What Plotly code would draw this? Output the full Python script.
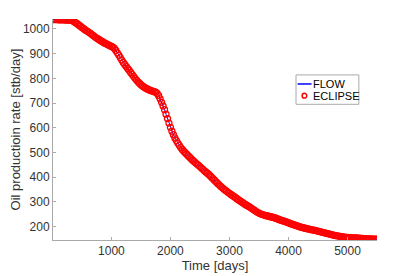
import plotly.graph_objects as go

time_days = [10] + list(range(25, 5501, 25))

eclipse_rate = [
    1038, 1038, 1038, 1038, 1037, 1037, 1037, 1037, 1037, 1036,
    1036, 1036, 1036, 1035, 1032, 1028, 1024, 1020, 1015, 1011,
    1006, 1002, 997, 993, 989, 985, 981, 976, 972, 967,
    963, 959, 955, 951, 948, 944, 941, 938, 935, 932,
    929, 926, 921, 913, 903, 894, 884, 874, 864, 856,
    848, 840, 833, 824, 816, 808, 800, 793, 786, 780,
    774, 769, 765, 761, 758, 755, 752, 750, 748, 746,
    744, 739, 730, 717, 703, 688, 673, 655, 637, 619,
    602, 586, 572, 559, 548, 538, 529, 520, 512, 505,
    499, 493, 487, 481, 475, 469, 464, 458, 453, 448,
    443, 437, 432, 426, 421, 416, 411, 405, 399, 393,
    387, 381, 375, 369, 363, 358, 353, 348, 344, 339,
    335, 330, 326, 322, 318, 313, 309, 305, 301, 297,
    293, 289, 286, 282, 278, 274, 270, 266, 262, 258,
    255, 252, 250, 248, 246, 244, 243, 241, 240, 238,
    237, 235, 233, 230, 228, 226, 224, 222, 220, 218,
    216, 213, 211, 209, 207, 205, 203, 201, 199, 197,
    196, 194, 193, 191, 190, 188, 187, 186, 185, 183,
    182, 180, 179, 177, 176, 174, 173, 171, 170, 168,
    167, 165, 164, 163, 162, 161, 160, 159, 158, 157,
    157, 156, 156, 155, 155, 154, 154, 153, 153, 152,
    152, 151, 151, 150, 150, 150, 150, 149, 149, 149,
    149,
]

flow_rate = list(eclipse_rate)

x_ticks = [1000, 2000, 3000, 4000, 5000]
y_ticks = [200, 300, 400, 500, 600, 700, 800, 900, 1000]

FONT = "Liberation Sans, Arial, Helvetica, sans-serif"

fig = go.Figure()
fig.add_trace(go.Scatter(x=time_days, y=flow_rate, mode="lines", name="FLOW",
                         line=dict(color="#0000ff", width=1), showlegend=False))
fig.add_trace(go.Scatter(x=time_days, y=eclipse_rate, mode="markers", name="ECLIPSE",
                         marker=dict(symbol="circle-open", color="#ff0000", size=6,
                                     line=dict(width=1.3, color="#ff0000")),
                         showlegend=False))

axis_common = dict(showgrid=False, zeroline=False, showline=True, linecolor="#aaaaaa",
                   linewidth=1, ticks="inside", ticklen=3, tickcolor="#aaaaaa",
                   tickfont=dict(family=FONT, size=12, color="#333333"),
                   mirror=False, automargin=False)

# Legend drawn as a boxed key inside the plot area (paper coordinates)
legend_shapes = [
    dict(type="rect", xref="paper", yref="paper", x0=0.750, x1=0.944, y0=0.614, y1=0.747,
         line=dict(color="#aaaaaa", width=1), fillcolor="white", layer="above"),
    dict(type="line", xref="paper", yref="paper", x0=0.755, x1=0.798, y0=0.706, y1=0.706,
         line=dict(color="#0000ff", width=1.5), layer="above"),
    dict(type="circle", xref="paper", yref="paper", x0=0.769, x1=0.783, y0=0.642, y1=0.664,
         line=dict(color="#ff0000", width=1.5), layer="above"),
]
legend_text = [
    dict(text="FLOW", xref="paper", yref="paper", x=0.796, y=0.706, xanchor="left",
         yanchor="middle", showarrow=False, font=dict(family=FONT, size=11, color="#000000")),
    dict(text="ECLIPSE", xref="paper", yref="paper", x=0.797, y=0.653, xanchor="left",
         yanchor="middle", showarrow=False, font=dict(family=FONT, size=11, color="#000000")),
]

# The page adds an 8px body margin, so the figure is sized to the visible area.
fig.update_layout(
    width=407, height=268,
    margin=dict(l=45, r=38, t=11, b=36),
    paper_bgcolor="white", plot_bgcolor="white",
    font=dict(family=FONT, color="#333333"),
    xaxis=dict(range=[10, 5500], tickvals=x_ticks,
               title=dict(text="Time [days]", font=dict(family=FONT, size=13, color="#333333"), standoff=2),
               **axis_common),
    yaxis=dict(range=[146, 1040], tickvals=y_ticks,
               title=dict(text="Oil productioin rate [stb/day]", font=dict(family=FONT, size=13, color="#333333"), standoff=0),
               **axis_common),
    shapes=legend_shapes,
    annotations=legend_text,
    showlegend=False,
)

fig.write_html("out.html")
